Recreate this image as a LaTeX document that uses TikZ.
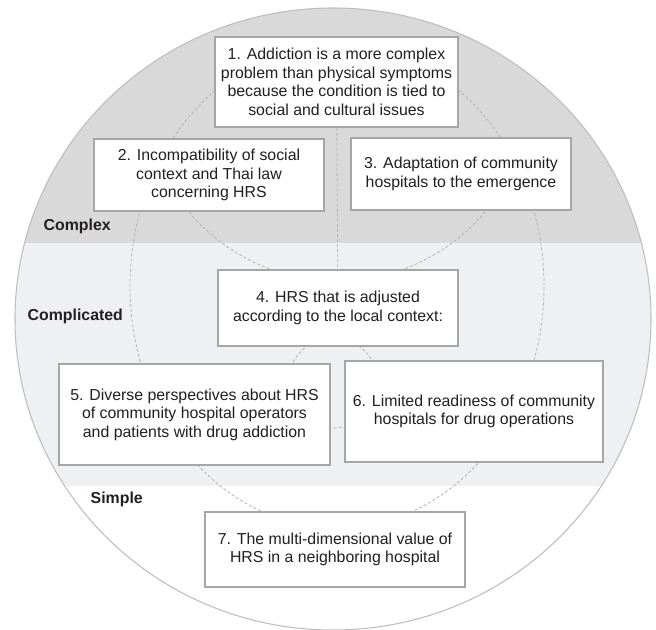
\documentclass[tikz,border=0pt]{standalone}
\usepackage{fontspec}
\setmainfont{Liberation Sans}
\usepackage{tikz}
\definecolor{bandcomplex}{HTML}{D9D9DA}
\definecolor{bandcomplicated}{HTML}{EFF0F1}
\definecolor{rim}{HTML}{BEBEBE}
\definecolor{boxline}{HTML}{A6A6A6}
\definecolor{guideline}{HTML}{B3B3B3}
\definecolor{ink}{HTML}{231F20}

\begin{document}
\begin{tikzpicture}[x=0.75pt,y=0.75pt,
    every node/.style={font=\fontsize{11.9}{13.9}\selectfont,text=ink},
    theme/.style 2 args={draw=boxline,fill=white,line width=0.9pt,align=center,
                         inner sep=0pt,minimum width=#1,minimum height=#2},
    zonelabel/.style={anchor=west,font=\fontsize{11.9}{13.9}\selectfont\bfseries},
    guide/.style={draw=guideline,line width=0.6pt,dash pattern=on 2.2pt off 1.6pt},
  ]
  \useasboundingbox (0,0) rectangle (656,-629);

  % bands of the outer circle
  \begin{scope}
    \clip (333,-319) ellipse [x radius=318,y radius=311];
    \fill[white] (0,0) rectangle (656,-629);
    \fill[bandcomplicated] (0,-243) rectangle (656,-486);
    \fill[bandcomplex] (0,0) rectangle (656,-243);
  \end{scope}
  \draw[rim,line width=0.8pt] (333,-319) ellipse [x radius=318,y radius=311];

  % dashed rings behind the boxes
  \draw[guide] (337,-286) ellipse [x radius=207,y radius=242];
  \draw[guide] (333,-383) circle [radius=45];
  \draw[guide] (337,-88) ++(205:193) arc [start angle=205,end angle=335,radius=193];

  \node[theme={182.25pt}{67.5pt}] (addiction) at (336.5,-82)
    {1. Addiction is a more complex\\problem than physical symptoms\\because the condition is tied to\\social and cultural issues};
  \node[theme={172.5pt}{54pt}] (incompat) at (209,-175)
    {2. Incompatibility of social\\context and Thai law\\concerning HRS};
  \node[theme={165pt}{54pt}] (adaptation) at (461,-174)
    {3. Adaptation of community\\hospitals to the emergence};
  \node[theme={180pt}{57pt}] (adjusted) at (338,-308)
    {4. HRS that is adjusted\\according to the local context:};
  \node[theme={203.25pt}{75.75pt}] (perspectives) at (194.5,-414.5)
    {5. Diverse perspectives about HRS\\of community hospital operators\\and patients with drug addiction};
  \node[theme={193.5pt}{75.75pt}] (readiness) at (474,-411.5)
    {6. Limited readiness of community\\hospitals for drug operations};
  \node[theme={195pt}{56.25pt}] (value) at (335,-549.5)
    {7. The multi-dimensional value of\\HRS in a neighboring hospital};

  \draw[guide] (addiction) -- (adjusted);

  \node[zonelabel] (complex) at (39,-226) {Complex};
  \node[zonelabel] (complicated) at (23,-316) {Complicated};
  \node[zonelabel] (simple) at (86,-499) {Simple};
\end{tikzpicture}
\end{document}
